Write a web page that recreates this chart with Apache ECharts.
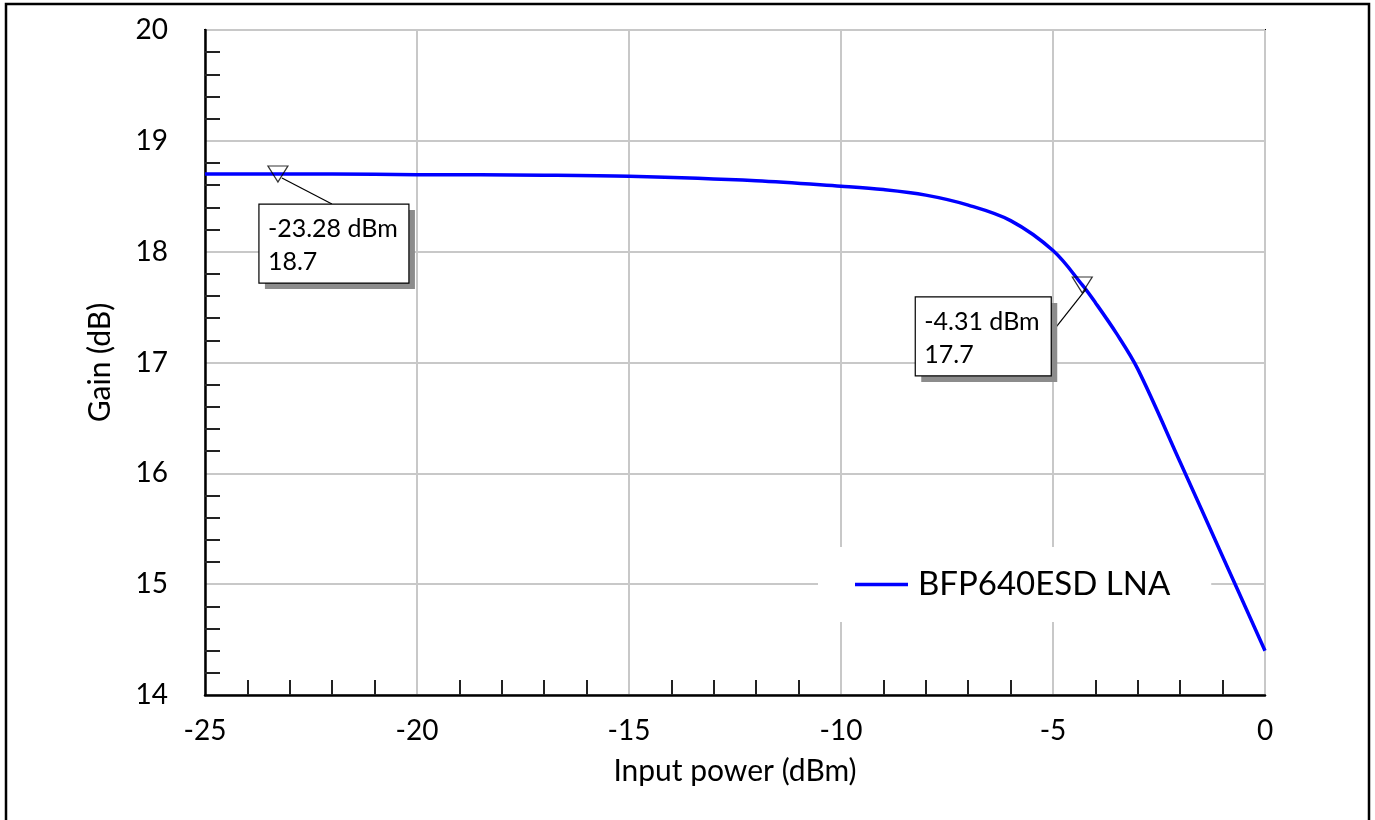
<!DOCTYPE html>
<html>
<head>
<meta charset="utf-8">
<script src="https://cdn.jsdelivr.net/npm/echarts@6/dist/echarts.min.js"></script>
<style>
html,body{margin:0;padding:0;background:#fff;}
#chart{width:1375px;height:820px;}
</style>
</head>
<body>
<div id="chart"></div>
<script>
// ---- data ----
const seriesName = 'BFP640ESD LNA';
const xLabel = 'Input power (dBm)';
const yLabel = 'Gain (dB)';
const inputPower = [-25, -22, -20, -17, -15, -12, -10, -9, -8, -7, -6, -5, -4.31, -4, -3.5, -3, -2, -1, 0];
const gain       = [18.70, 18.70, 18.695, 18.69, 18.68, 18.64, 18.59, 18.56, 18.51, 18.42, 18.28, 18.01, 17.70, 17.54, 17.26, 16.94, 16.10, 15.25, 14.40];
const markerX = [-23.28, -4.31];
const markerY = [18.7, 17.7];
const markerText = [['-23.28 dBm', '18.7'], ['-4.31 dBm', '17.7']];

const FONT = 'Lato';
const chart = echarts.init(document.getElementById('chart'), null, {renderer: 'canvas'});

const option = {
  backgroundColor: '#fff',
  animation: false,
  textStyle: {fontFamily: FONT},
  grid: {left: 205, top: 30, width: 1060, height: 665, show: true, borderColor: '#000', borderWidth: 2, backgroundColor: 'transparent', containLabel: false},
  xAxis: {
    type: 'value', min: -25, max: 0, interval: 5,
    name: xLabel, nameLocation: 'middle', nameGap: 61,
    nameTextStyle: {fontSize: 30, color: '#000', fontFamily: FONT},
    axisLine: {show: true, onZero: false, lineStyle: {color: '#000', width: 2.5}},
    axisTick: {show: false, inside: true},
    minorTick: {show: true, splitNumber: 5, length: 15, lineStyle: {color: '#222', width: 2}},
    axisLabel: {fontSize: 28, color: '#000', margin: 22, fontFamily: FONT},
    splitLine: {show: true, lineStyle: {color: '#c8c8c8', width: 2}}
  },
  yAxis: {
    type: 'value', min: 14, max: 20, interval: 1,
    name: yLabel, nameLocation: 'middle', nameGap: 90,
    nameTextStyle: {fontSize: 30, color: '#000', fontFamily: FONT},
    axisLine: {show: true, onZero: false, lineStyle: {color: '#000', width: 2.5}},
    axisTick: {show: false, inside: true},
    minorTick: {show: true, splitNumber: 5, length: 15, lineStyle: {color: '#222', width: 2}},
    axisLabel: {fontSize: 28, color: '#000', margin: 37, fontFamily: FONT},
    splitLine: {show: true, lineStyle: {color: '#c8c8c8', width: 2}}
  },
  legend: {
    show: true, left: 818, top: 547,
    backgroundColor: '#fff',
    padding: [21, 41, 21, 37],
    itemWidth: 53, itemHeight: 3.5,
    icon: 'rect',
    textStyle: {fontSize: 33, color: '#000', fontFamily: FONT, padding: [0, 0, 0, 5]},
    data: [seriesName]
  },
  series: [
    {
      name: seriesName, type: 'line', smooth: 0.35,
      showSymbol: false, symbol: 'none',
      lineStyle: {color: '#0000ff', width: 3.5},
      itemStyle: {color: '#0000ff'},
      data: inputPower.map((x, i) => [x, gain[i]]),
      z: 3
    },
    {
      name: 'markers', type: 'scatter',
      symbol: 'triangle', symbolRotate: 180, symbolSize: [20, 16],
      itemStyle: {color: 'rgba(0,0,0,0)', borderColor: '#000', borderWidth: 1.2},
      data: markerX.map((x, i) => [x, markerY[i]]),
      z: 5, silent: true
    }
  ]
};
chart.setOption(option);

// callout boxes placed relative to their marker points
const boxOffsets = [[-19, 30, 150, 79], [-167, 12, 136, 79]];
const graphics = [];
markerX.forEach((x, i) => {
  const p = chart.convertToPixel({gridIndex: 0}, [x, markerY[i]]);
  const [dx, dy, w, h] = boxOffsets[i];
  const bx = p[0] + dx, by = p[1] + dy;
  let lineEnd;
  if (i === 0) lineEnd = [bx + 73, by];
  else lineEnd = [bx + w + 5, by + 30];
  graphics.push({type: 'line', z: 10, shape: {x1: p[0] + 4, y1: p[1] + 4, x2: lineEnd[0], y2: lineEnd[1]}, style: {stroke: '#000', lineWidth: 1.2}});
  graphics.push({type: 'rect', z: 10, shape: {x: bx + 6, y: by + 6, width: w, height: h}, style: {fill: '#8c8c8c'}});
  graphics.push({type: 'rect', z: 11, shape: {x: bx, y: by, width: w, height: h}, style: {fill: '#fff', stroke: '#000', lineWidth: 1.2}});
  graphics.push({type: 'text', z: 12, x: bx + 9, y: by + 25, style: {text: markerText[i][0], fill: '#000', font: '25px ' + FONT, verticalAlign: 'middle'}});
  graphics.push({type: 'text', z: 12, x: bx + 9, y: by + 58, style: {text: markerText[i][1], fill: '#000', font: '25px ' + FONT, verticalAlign: 'middle'}});
});
graphics.push({type: 'rect', z: 20, shape: {x: 6, y: 4, width: 1363, height: 830}, style: {fill: 'none', stroke: '#000', lineWidth: 2.5}});
chart.setOption({graphic: graphics});
</script>
</body>
</html>
